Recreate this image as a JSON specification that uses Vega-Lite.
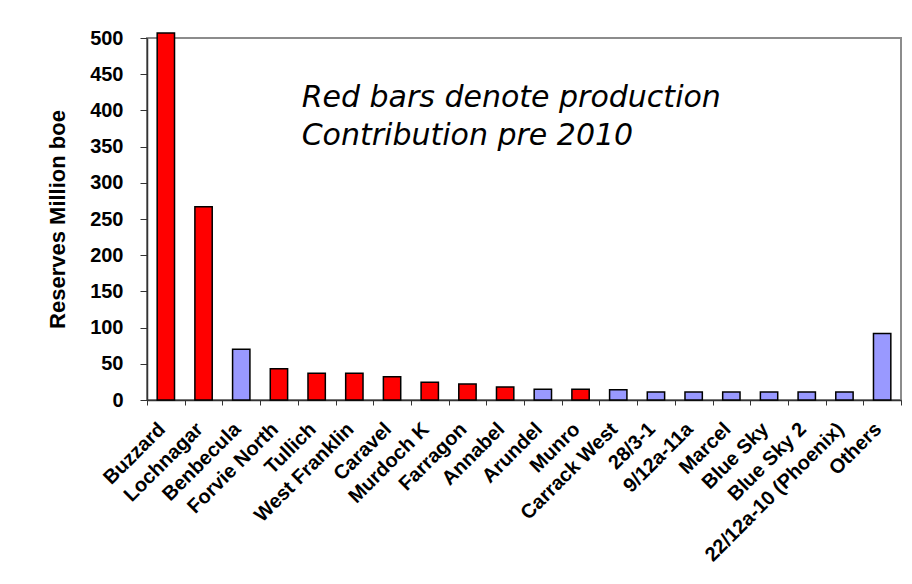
{
  "$schema": "https://vega.github.io/schema/vega-lite/v6.json",
  "width": 754,
  "height": 362,
  "autosize": {"type": "none"},
  "padding": {"left": 147, "top": 38, "right": 11, "bottom": 184},
  "background": "white",
  "config": {
    "view": {"stroke": "#8c8c8c", "strokeWidth": 2},
    "font": "Liberation Sans"
  },
  "datasets": {
    "fields": [
      {"field": "Buzzard", "reserves": 507, "status": "pre2010"},
      {"field": "Lochnagar", "reserves": 267, "status": "pre2010"},
      {"field": "Benbecula", "reserves": 70, "status": "other"},
      {"field": "Forvie North", "reserves": 43, "status": "pre2010"},
      {"field": "Tullich", "reserves": 37, "status": "pre2010"},
      {"field": "West Franklin", "reserves": 37, "status": "pre2010"},
      {"field": "Caravel", "reserves": 32, "status": "pre2010"},
      {"field": "Murdoch K", "reserves": 24.5, "status": "pre2010"},
      {"field": "Farragon", "reserves": 22, "status": "pre2010"},
      {"field": "Annabel", "reserves": 18, "status": "pre2010"},
      {"field": "Arundel", "reserves": 15, "status": "other"},
      {"field": "Munro", "reserves": 15, "status": "pre2010"},
      {"field": "Carrack West", "reserves": 14, "status": "other"},
      {"field": "28/3-1", "reserves": 11, "status": "other"},
      {"field": "9/12a-11a", "reserves": 11, "status": "other"},
      {"field": "Marcel", "reserves": 11, "status": "other"},
      {"field": "Blue Sky", "reserves": 11, "status": "other"},
      {"field": "Blue Sky 2", "reserves": 11, "status": "other"},
      {"field": "22/12a-10 (Phoenix)", "reserves": 11, "status": "other"},
      {"field": "Others", "reserves": 92, "status": "other"}
    ],
    "note": [
      {"text": "Red bars denote production", "field": "Tullich", "reserves": 405},
      {"text": "Contribution pre 2010", "field": "Tullich", "reserves": 352}
    ]
  },
  "encoding": {
    "x": {
      "field": "field",
      "type": "nominal",
      "sort": null,
      "scale": {
        "domain": ["Buzzard", "Lochnagar", "Benbecula", "Forvie North", "Tullich", "West Franklin", "Caravel", "Murdoch K", "Farragon", "Annabel", "Arundel", "Munro", "Carrack West", "28/3-1", "9/12a-11a", "Marcel", "Blue Sky", "Blue Sky 2", "22/12a-10 (Phoenix)", "Others"],
        "paddingInner": 0,
        "paddingOuter": 0
      },
      "axis": {
        "title": null,
        "labelAngle": -45,
        "labelAlign": "right",
        "labelBaseline": "alphabetic",
        "labelFont": "Liberation Sans",
        "labelFontWeight": "bold",
        "labelFontSize": 20,
        "labelColor": "black",
        "labelPadding": 25,
        "labelLimit": 400,
        "tickBand": "extent",
        "tickSize": 5,
        "tickColor": "#333333",
        "domainColor": "#333333",
        "domainWidth": 1.5,
        "labelOverlap": false
      }
    },
    "y": {
      "field": "reserves",
      "type": "quantitative",
      "scale": {"domain": [0, 500], "nice": false},
      "axis": {
        "title": "Reserves Million boe",
        "titleFont": "Liberation Sans",
        "titleFontWeight": "bold",
        "titleFontSize": 22,
        "titleColor": "black",
        "titlePadding": 20,
        "values": [0, 50, 100, 150, 200, 250, 300, 350, 400, 450, 500],
        "labelFont": "Liberation Sans",
        "labelFontWeight": "bold",
        "labelFontSize": 20,
        "labelColor": "black",
        "labelPadding": 17,
        "tickSize": 7,
        "tickColor": "#333333",
        "domainColor": "#333333",
        "domainWidth": 1.5,
        "grid": false
      }
    }
  },
  "layer": [
    {
      "data": {"name": "fields"},
      "mark": {"type": "bar", "stroke": "black", "strokeWidth": 1.5, "width": {"band": 0.46}, "clip": false},
      "encoding": {
        "color": {
          "field": "status",
          "type": "nominal",
          "scale": {"domain": ["pre2010", "other"], "range": ["#FF0000", "#9999FF"]},
          "legend": null
        }
      }
    },
    {
      "data": {"name": "note"},
      "mark": {"type": "text", "font": "DejaVu Sans", "fontStyle": "italic", "fontSize": 30, "align": "left", "baseline": "alphabetic", "color": "black", "dx": -15},
      "encoding": {
        "text": {"field": "text", "type": "nominal"}
      }
    }
  ]
}
